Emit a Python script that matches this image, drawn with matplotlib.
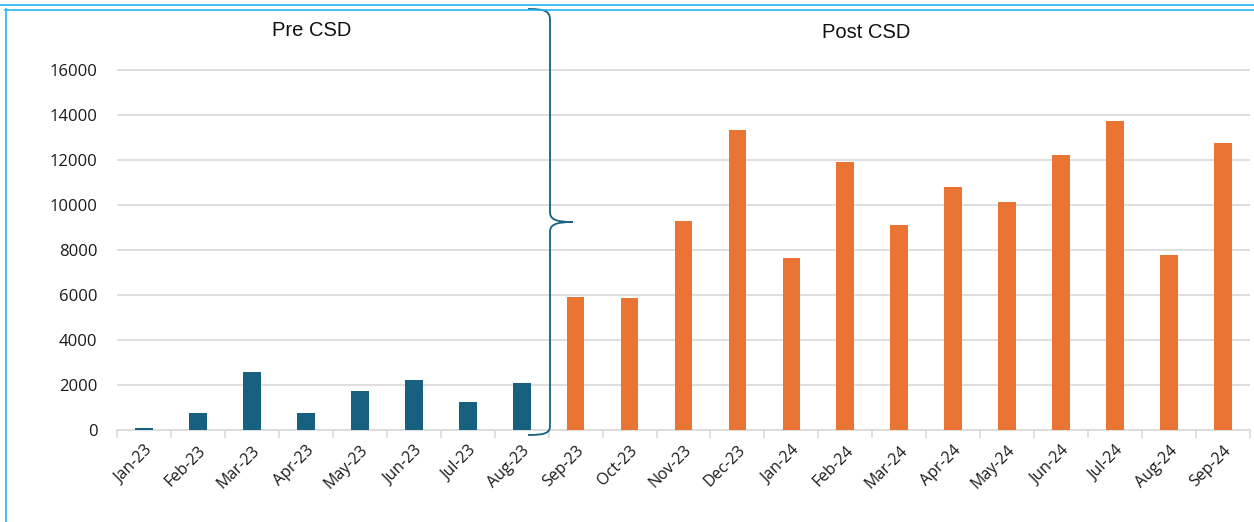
import numpy as np
import matplotlib.pyplot as plt
from matplotlib.path import Path
from matplotlib.patches import PathPatch

months = ['Jan-23', 'Feb-23', 'Mar-23', 'Apr-23', 'May-23', 'Jun-23', 'Jul-23', 'Aug-23',
          'Sep-23', 'Oct-23', 'Nov-23', 'Dec-23', 'Jan-24', 'Feb-24', 'Mar-24', 'Apr-24',
          'May-24', 'Jun-24', 'Jul-24', 'Aug-24', 'Sep-24']
values = [90, 760, 2580, 760, 1740, 2220, 1250, 2090,
          5910, 5870, 9290, 13330, 7640, 11910, 9110, 10800,
          10130, 12220, 13730, 7780, 12760]
n_pre = 8  # first 8 months are pre CSD
yticks = [0, 2000, 4000, 6000, 8000, 10000, 12000, 14000, 16000]

blue = '#17607F'
orange = '#EA7434'
grid_c = '#D9D9D9'

plt.rcParams['font.family'] = ['Open Sans', 'DejaVu Sans']

fig = plt.figure(figsize=(12.54, 5.22), dpi=100)
ax = fig.add_axes([117 / 1254, 92 / 522, (1250 - 117) / 1254, (430 - 25) / 522])

x = np.arange(len(months))
colors = [blue] * n_pre + [orange] * (len(months) - n_pre)
ax.bar(x, values, width=0.33, color=colors, zorder=3)

ax.set_xlim(-0.5, len(months) - 0.5)
ax.set_ylim(0, 18000)
ax.set_yticks(yticks)
ax.set_yticklabels([str(v) for v in yticks], fontsize=12, color='#1a1a1a')
ax.tick_params(axis='y', length=0, pad=14)
ax.yaxis.grid(True, color=grid_c, linewidth=1.2, zorder=0)

ax.set_xticks(x)
ax.set_xticklabels(months, rotation=45, ha='right', rotation_mode='anchor', fontsize=11.5, color='#1a1a1a')
ax.set_xticks(np.arange(-0.5, len(months) + 0.5, 1), minor=True)
ax.tick_params(axis='x', which='major', length=0, pad=9)
ax.tick_params(axis='x', which='minor', length=6, color=grid_c, width=1.2)

for s in ['top', 'right', 'left']:
    ax.spines[s].set_visible(False)
ax.spines['bottom'].set_color(grid_c)
ax.spines['bottom'].set_linewidth(1.2)

# overlay in pixel coordinates for the brace, labels and border
ov = fig.add_axes([0, 0, 1, 1], zorder=5)
ov.set_xlim(0, 1254)
ov.set_ylim(522, 0)
ov.axis('off')
ov.patch.set_alpha(0)

verts = [(528, 9), (545, 9), (550, 11), (550, 20),
         (550, 212),
         (550, 219), (555, 222), (573, 222),
         (555, 222), (550, 225), (550, 232),
         (550, 426),
         (550, 433), (545, 435), (528, 435)]
codes = [Path.MOVETO, Path.CURVE4, Path.CURVE4, Path.CURVE4,
         Path.LINETO,
         Path.CURVE4, Path.CURVE4, Path.CURVE4,
         Path.CURVE4, Path.CURVE4, Path.CURVE4,
         Path.LINETO,
         Path.CURVE4, Path.CURVE4, Path.CURVE4]
ov.add_patch(PathPatch(Path(verts, codes), facecolor='none', edgecolor=blue, linewidth=1.3))

ov.text(312, 31, 'Pre CSD', ha='center', va='center', fontsize=14.5,
        family=['Liberation Sans', 'DejaVu Sans'], color='#111111')
ov.text(866, 33, 'Post CSD', ha='center', va='center', fontsize=14.5,
        family=['Liberation Sans', 'DejaVu Sans'], color='#111111')

border = '#22B4F0'
ov.plot([0, 1254], [4.5, 4.5], color=border, linewidth=1.2)
ov.plot([5, 1254], [9.5, 9.5], color=border, linewidth=1.2)
ov.plot([5.5, 5.5], [9, 522], color=border, linewidth=1.2)

fig.savefig('out.png', dpi=100)
